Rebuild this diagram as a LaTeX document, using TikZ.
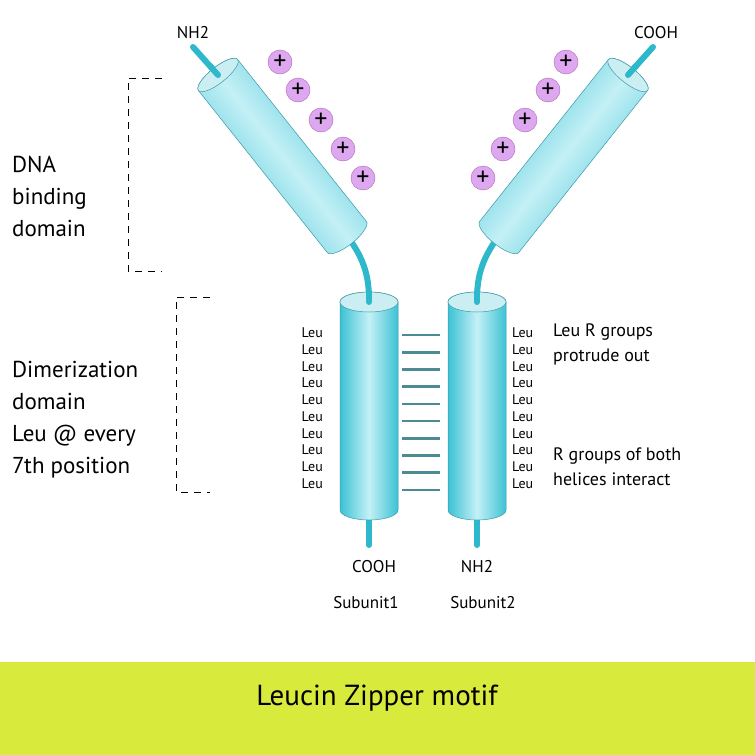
\documentclass[tikz,border=0pt]{standalone}
\usepackage{fontspec}
\setmainfont{PT Sans}
\begin{document}
\begin{tikzpicture}[x=1pt,y=1pt,
 stub/.style={draw=stubc,line width=6pt,line cap=round},
 zip/.style={draw=zipc,line width=2.6pt},
 brk/.style={dashed,dash pattern=on 7pt off 6pt,line width=0.8pt},
 plus/.style={circle,draw=violet!60,fill=plusc,minimum size=24pt,inner sep=0pt,font=\fontsize{26}{26}\selectfont},
 leu/.style={font=\fontsize{14}{14}\selectfont,inner sep=0pt},
 lab/.style={font=\fontsize{23}{32}\selectfont,align=left,anchor=west,inner sep=0pt},
 sm/.style={font=\fontsize{18}{25}\selectfont,align=left,anchor=west,inner sep=0pt},
 tag/.style={font=\fontsize{17}{17}\selectfont},
 endcap/.style={fill=capc,draw=edgec,line width=0.5pt}]
\definecolor{bodyc}{HTML}{3CC2D4}
\definecolor{lightc}{HTML}{C4F0F6}
\definecolor{capc}{HTML}{CBEEF3}
\definecolor{stubc}{HTML}{2DB9CB}
\definecolor{zipc}{HTML}{4B8C94}
\definecolor{plusc}{HTML}{DDA8F0}
\definecolor{edgec}{HTML}{3A9AA8}
\definecolor{band}{HTML}{D8EA3C}
\useasboundingbox (0,0) rectangle (755,-755);
\fill[white] (0,0) rectangle (755,-755);
\fill[band] (0,-662) rectangle (755,-755);
\node[font=\fontsize{29}{30}\selectfont] (title) at (377,-698) {Leucin Zipper motif};
% stubs
\draw[stub] (193,-47) -- (218,-75);
\draw[stub] (653,-47) -- (628,-75);
\draw[stub] (350,-240) .. controls (368,-265) and (369,-285) .. (369,-302);
\draw[stub] (496,-240) .. controls (478,-265) and (477,-285) .. (477,-302);
\draw[stub] (369,-500) -- (369,-545);
\draw[stub] (477,-500) -- (477,-545);
% cylinders
\foreach \sx/\sy/\rot/\L/\R/\rx in {218/75/-51.5/207/25/8, 628/75/-128.5/207/25/8, 369/302/-90/208/29/10, 477/302/-90/208/29/10}{
 \begin{scope}[shift={(\sx,-\sy)},rotate=\rot]
 \path[draw=edgec,line width=0.5pt,top color=bodyc,bottom color=bodyc,middle color=lightc,shading angle=\rot]
   (0,\R) -- (\L,\R) arc[start angle=90,end angle=-90,x radius=\rx,y radius=\R] -- (0,-\R)
   arc[start angle=270,end angle=90,x radius=\rx,y radius=\R] -- cycle;
 \path[endcap] (0,0) ellipse[x radius=\rx,y radius=\R];
 \end{scope}}
\draw[stub] (210,-66) -- (218,-75);
\draw[stub] (636,-66) -- (628,-75);
\draw[stub] (369,-292) -- (369,-302);
\draw[stub] (477,-292) -- (477,-302);
% plus charges
\foreach \x/\y [count=\i] in {280/62,298/90,321/120,343/149,363/178}{
 \node[plus] (pl\i) at (\x,-\y) {+};
 \node[plus] (pr\i) at (846-\x,-\y) {+};}
% zipper lines & Leu
\foreach \i in {0,...,9}{
 \draw[zip] (402,{-335-17.2*\i}) -- (440,{-335-17.2*\i});
 \node[leu,anchor=east] (ll\i) at (323,{-333-16.7*\i}) {Leu};
 \node[leu,anchor=west] (lr\i) at (512,{-333-16.7*\i}) {Leu};}
% brackets
\draw[brk] (162,-78) -- (128,-78) -- (128,-271) -- (162,-271);
\draw[brk] (210,-297) -- (176,-297) -- (176,-492) -- (210,-492);
% labels
\node[lab] (dna) at (12,-196) {DNA\\binding\\domain};
\node[lab] (dim) at (12,-420) {Dimerization\\domain\\Leu @ every\\7th position};
\node[sm] (r1) at (553,-344) {Leu R groups\\protrude out};
\node[sm] (r2) at (553,-467) {R groups of both\\helices interact};
\node[tag] (nt) at (193,-33) {NH2};
\node[tag] (ct) at (656,-33) {COOH};
\node[tag] (cb) at (374,-567) {COOH};
\node[tag] (nb) at (477,-567) {NH2};
\node[tag] (s1) at (366,-603) {Subunit1};
\node[tag] (s2) at (483,-603) {Subunit2};
\end{tikzpicture}
\end{document}
